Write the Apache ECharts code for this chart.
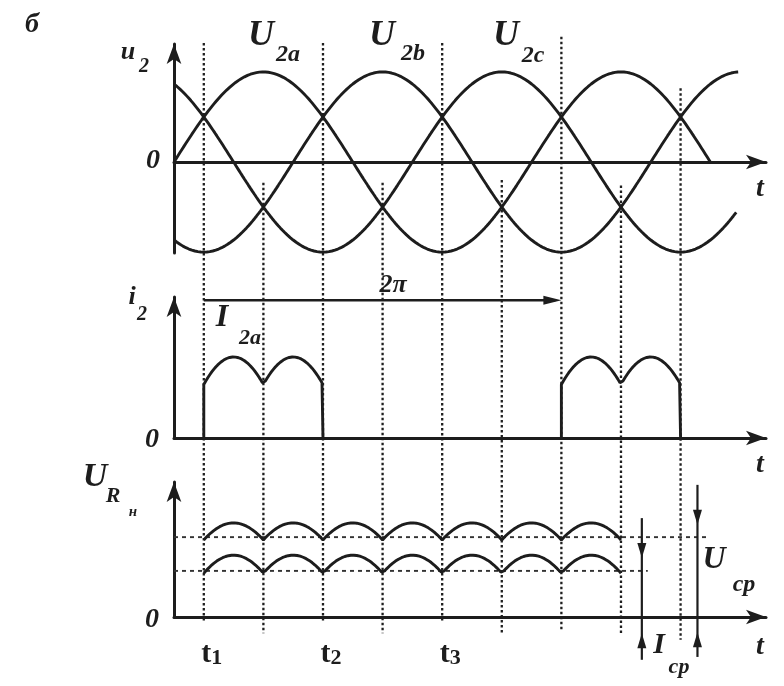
<!DOCTYPE html>
<html>
<head>
<meta charset="utf-8">
<script src="https://cdn.jsdelivr.net/npm/echarts@6/dist/echarts.min.js"></script>
<style>
  html, body { margin: 0; padding: 0; background: #fff; }
  #chart { width: 784px; height: 686px; }
</style>
</head>
<body>
<div id="chart"></div>
<script>
// ---- Three-phase half-wave rectifier: waveforms on a common electrical-angle axis (degrees) ----

// Phase-angle axis range
const thetaRange = [0, 596];

// Secondary phase voltages u2a, u2b, u2c (relative amplitude 1)
const phaseNames = ['U2a', 'U2b', 'U2c'];
const phaseShift = [0, -120, 120];
const phaseEnd = [540, 568, 566];
const phaseAmplitude = [1, 1, 1];

// Phase-a current: conduction intervals (deg) and pulse levels (relative)
const i2aStart = [30, 390];
const i2aEnd = [150, 510];
const i2aPeak = 1.0;
const i2aValley = 0.66;

// Load voltage / current ripple over 30..450 deg
const rippleSpan = [30, 450];
const uLoad = { peak: 0.99, valley: 0.81, mean: 0.84, meanEnd: 539 };
const iLoad = { peak: 0.65, valley: 0.46, mean: 0.485, meanEnd: 477 };

// Dotted time markers: angle, top end (upper-panel units), bottom end (lower-panel units)
const markerAt = [30, 90, 150, 210, 270, 330, 390, 450, 510];
const markerTop = [1.32, -0.23, 1.32, -0.23, 1.32, -0.2, 1.39, -0.26, 0.82];
const markerBottom = [-0.06, -0.17, -0.05, -0.17, -0.05, -0.17, -0.14, -0.17, -0.24];

// Period arrow (2π) in the current panel
const periodArrow = [30, 390, 1.70];

// Dimension arrows for mean values: angle, line top, line bottom, down-tip, up-tip
const meanArrowAt = [471, 527];
const meanArrowTop = [1.04, 1.39];
const meanArrowBottom = [-0.45, -0.42];
const meanArrowDownTip = [0.62, 0.97];
const meanArrowUpTip = [-0.17, -0.16];

// Bottom axis tick labels
const tickAt = [30, 150, 270];
const tickLabels = ['1', '2', '3'];

const INK = '#1d1d1d';
const SERIF = '"Liberation Serif", "DejaVu Serif", serif';
const RAD = Math.PI / 180;

function phaseCurve(k) {
  const pts = [];
  for (let t = 0; t <= phaseEnd[k]; t += 1) {
    pts.push([t, phaseAmplitude[k] * Math.sin((t + phaseShift[k]) * RAD)]);
  }
  return pts;
}

// One 60-degree ripple hump between valley and peak
function hump(t, segStart, peak, valley) {
  const c30 = Math.cos(30 * RAD);
  const phi = (t - segStart - 30) * RAD;
  return valley + (peak - valley) * (Math.cos(phi) - c30) / (1 - c30);
}

function rippleCurve(from, to, peak, valley, closed) {
  const pts = [];
  const nSeg = Math.round((to - from) / 60);
  if (closed) pts.push([from, 0]);
  for (let t = from; t <= to; t += 1) {
    const seg = from + Math.min(Math.floor((t - from) / 60), nSeg - 1) * 60;
    pts.push([t, hump(t, seg, peak, valley)]);
  }
  if (closed) pts.push([to, 0]);
  return pts;
}

const grids = [
  { left: 174, right: 18, top: 44, height: 209 },
  { left: 174, right: 18, top: 297, height: 141 },
  { left: 174, right: 18, top: 482, height: 135 }
];
const yRanges = [[-1.01, 1.31], [0, 1.74], [0, 1.42]];

const axisLineStyle = { color: INK, width: 3 };

const xAxes = grids.map((g, i) => ({
  type: 'value', gridIndex: i, min: thetaRange[0], max: thetaRange[1],
  axisLine: { show: true, onZero: true, symbol: ['none', 'arrow'], symbolSize: [11, 20], lineStyle: axisLineStyle },
  axisTick: { show: false },
  axisLabel: i === 2 ? {
    show: true,
    customValues: tickAt,
    margin: 22,
    padding: [0, 0, 0, 16],
    formatter: v => '{t|t}{n|' + tickLabels[tickAt.indexOf(v)] + '}',
    rich: {
      t: { fontFamily: SERIF, fontWeight: 'bold', fontSize: 30, color: INK },
      n: { fontFamily: SERIF, fontWeight: 'bold', fontSize: 22, color: INK, padding: [8, 0, 0, 0] }
    }
  } : { show: false },
  splitLine: { show: false }
}));

const yAxes = grids.map((g, i) => ({
  type: 'value', gridIndex: i, min: yRanges[i][0], max: yRanges[i][1],
  axisLine: { show: true, onZero: true, symbol: ['none', 'arrow'], symbolSize: [11, 20], lineStyle: axisLineStyle },
  axisTick: { show: false },
  axisLabel: { show: false },
  splitLine: { show: false }
}));

function lineSeries(id, grid, data, extra) {
  return Object.assign({
    id, type: 'line', xAxisIndex: grid, yAxisIndex: grid, data,
    showSymbol: false, symbol: 'none', smooth: false, silent: true,
    lineStyle: { color: INK, width: 2.9 }, z: 3
  }, extra || {});
}

const series = [];
phaseNames.forEach((name, k) => series.push(lineSeries('phase' + k, 0, phaseCurve(k))));
i2aStart.forEach((s, k) => series.push(lineSeries('i2a' + k, 1, rippleCurve(s, i2aEnd[k], i2aPeak, i2aValley, true))));
series.push(lineSeries('uLoad', 2, rippleCurve(rippleSpan[0], rippleSpan[1], uLoad.peak, uLoad.valley, false)));
series.push(lineSeries('iLoad', 2, rippleCurve(rippleSpan[0], rippleSpan[1], iLoad.peak, iLoad.valley, false)));
series.push(lineSeries('uMean', 2, [[0, uLoad.mean], [uLoad.meanEnd, uLoad.mean]], { lineStyle: { color: '#333', width: 1.9, type: [4, 4] }, z: 2 }));
series.push(lineSeries('iMean', 2, [[0, iLoad.mean], [iLoad.meanEnd, iLoad.mean]], { lineStyle: { color: '#333', width: 1.9, type: [4, 4] }, z: 2 }));

// Text annotations
function txt(x, y, s, size, opt) {
  opt = opt || {};
  return {
    type: 'text', x, y, silent: true, z: 10,
    style: {
      text: s, fill: INK, align: 'center', verticalAlign: 'middle',
      fontFamily: SERIF, fontSize: size,
      fontStyle: opt.upright ? 'normal' : 'italic',
      fontWeight: opt.light ? 'normal' : 'bold'
    }
  };
}
const labels = [
  txt(32, 25, 'б', 28),
  txt(128, 52, 'u', 26), txt(144, 67, '2', 20),
  txt(153, 161, '0', 28), txt(760, 189, 't', 28),
  txt(261, 36, 'U', 36), txt(288, 55, '2a', 24),
  txt(382, 36, 'U', 36), txt(413, 54, '2b', 24),
  txt(506, 36, 'U', 36), txt(533, 56, '2c', 24),
  txt(132, 297, 'i', 26), txt(142, 315, '2', 20),
  txt(152, 440, '0', 28), txt(760, 465, 't', 28),
  txt(393, 285, '2π', 26),
  txt(222, 318, 'I', 32), txt(250, 338, '2a', 22),
  txt(95, 477, 'U', 34), txt(113, 496, 'R', 22), txt(133, 512, 'н', 15),
  txt(152, 620, '0', 28), txt(760, 647, 't', 28),
  txt(714, 560, 'U', 32), txt(744, 585, 'cp', 24),
  txt(659, 645, 'I', 30), txt(679, 667, 'cp', 22)
];

const chart = echarts.init(document.getElementById('chart'), null, { renderer: 'canvas' });
chart.setOption({
  animation: false,
  backgroundColor: '#ffffff',
  grid: grids,
  xAxis: xAxes,
  yAxis: yAxes,
  series,
  graphic: labels
});

// Arrowhead polygon with tip at (x, y), pointing in direction (dx, dy)
function arrowHead(x, y, dx, dy, len, half) {
  const bx = x - dx * len, by = y - dy * len;
  return {
    type: 'polygon',
    shape: { points: [[x, y], [bx - dy * half, by + dx * half], [bx + dy * half, by - dx * half]] },
    style: { fill: INK }
  };
}

// Guides drawn across the panels (second pass, once the grids are laid out)
chart.setOption({
  series: [
    {
      id: 'markers', type: 'custom', coordinateSystem: 'cartesian2d', xAxisIndex: 0, yAxisIndex: 0,
      silent: true, clip: false, z: 1,
      data: markerAt.map((a, i) => [a, markerTop[i], markerBottom[i]]),
      encode: { x: 0, y: 1 },
      renderItem: (params, api) => {
        const a = api.value(0);
        const p0 = api.coord([a, api.value(1)]);
        const p1 = chart.convertToPixel({ gridIndex: 2 }, [a, api.value(2)]);
        return {
          type: 'line',
          shape: { x1: p0[0], y1: p0[1], x2: p0[0], y2: p1[1] },
          style: { stroke: '#1f1f1f', lineWidth: 2.3, lineDash: [2.5, 2.5] }
        };
      }
    },
    {
      id: 'period', type: 'custom', coordinateSystem: 'cartesian2d', xAxisIndex: 1, yAxisIndex: 1,
      silent: true, clip: false, z: 4,
      data: [periodArrow],
      encode: { x: 0, y: 2 },
      renderItem: (params, api) => {
        const p0 = api.coord([api.value(0), api.value(2)]);
        const p1 = api.coord([api.value(1), api.value(2)]);
        return {
          type: 'group',
          children: [
            { type: 'line', shape: { x1: p0[0], y1: p0[1], x2: p1[0] - 6, y2: p1[1] }, style: { stroke: INK, lineWidth: 2.6 } },
            arrowHead(p1[0], p1[1], 1, 0, 18, 4.5)
          ]
        };
      }
    },
    {
      id: 'meanArrows', type: 'custom', coordinateSystem: 'cartesian2d', xAxisIndex: 2, yAxisIndex: 2,
      silent: true, clip: false, z: 4,
      data: meanArrowAt.map((a, i) => [a, meanArrowTop[i], meanArrowBottom[i], meanArrowDownTip[i], meanArrowUpTip[i]]),
      encode: { x: 0, y: 1 },
      renderItem: (params, api) => {
        const a = api.value(0);
        const top = api.coord([a, api.value(1)]);
        const bot = api.coord([a, api.value(2)]);
        const down = api.coord([a, api.value(3)]);
        const up = api.coord([a, api.value(4)]);
        return {
          type: 'group',
          children: [
            { type: 'line', shape: { x1: top[0], y1: top[1], x2: bot[0], y2: bot[1] }, style: { stroke: INK, lineWidth: 2.2 } },
            arrowHead(down[0], down[1], 0, 1, 15, 4.5),
            arrowHead(up[0], up[1], 0, -1, 15, 4.5)
          ]
        };
      }
    }
  ]
});
</script>
</body>
</html>
